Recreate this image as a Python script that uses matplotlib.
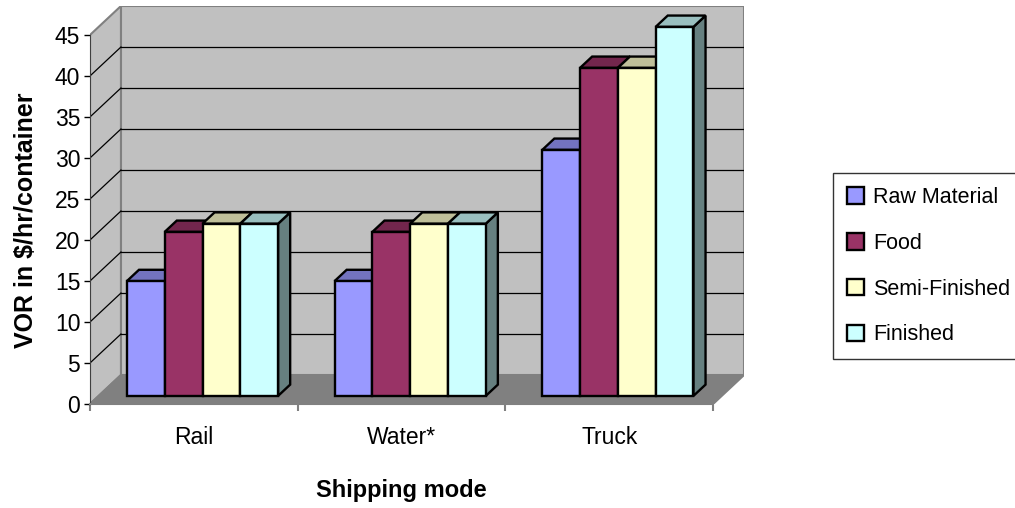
import matplotlib
matplotlib.use('Agg')
import matplotlib.pyplot as plt
from matplotlib.patches import Polygon, Patch
from matplotlib.colors import to_rgb

# Datos del gráfico
modes = ['Rail', 'Water*', 'Truck']
series = ['Raw Material', 'Food', 'Semi-Finished', 'Finished']
raw_material = [14, 14, 30]
food = [20, 20, 40]
semi_finished = [21, 21, 40]
finished = [21, 21, 45]
values = [raw_material, food, semi_finished, finished]
colors = ['#9999FF', '#993366', '#FFFFCC', '#CCFFFF']
yticks = [0, 5, 10, 15, 20, 25, 30, 35, 40, 45]
ymax = 45

plt.rcParams['font.family'] = ['Liberation Sans', 'DejaVu Sans']

# profundidad de la proyección oblicua (en unidades de datos)
DX = 0.149
DY = 3.53
z0, z1 = 0.28, 0.67
width = 0.182
offset = (1 - 4 * width) / 2


def proj(x, y, z):
    return (x + DX * z, y + DY * z)


def shade(c, f):
    r, g, b = to_rgb(c)
    return (r * f, g * f, b * f)


fig = plt.figure(figsize=(10.15, 5.08), dpi=100)
ax = fig.add_axes([90 / 1015, (508 - 404) / 508, 654 / 1015, 398 / 508])
ax.set_xlim(0, len(modes) + DX)
ax.set_ylim(0, ymax + DY)
ax.patch.set_visible(False)

# paredes y piso
wall_kw = dict(edgecolor='#808080', linewidth=1.5, zorder=0)
ncat = len(modes)
ax.add_patch(Polygon([proj(0, 0, 1), proj(ncat, 0, 1), proj(ncat, ymax, 1), proj(0, ymax, 1)],
                     facecolor='#C0C0C0', **wall_kw))
ax.add_patch(Polygon([proj(0, 0, 0), proj(0, 0, 1), proj(0, ymax, 1), proj(0, ymax, 0)],
                     facecolor='#C0C0C0', **wall_kw))
ax.add_patch(Polygon([proj(0, 0, 0), proj(ncat, 0, 0), proj(ncat, 0, 1), proj(0, 0, 1)],
                     facecolor='#808080', **wall_kw))

# líneas de cuadrícula
for v in yticks[1:-1]:
    a, b = proj(0, v, 1), proj(ncat, v, 1)
    ax.plot([a[0], b[0]], [a[1], b[1]], color='black', lw=0.9, zorder=1)
    a, b = proj(0, v, 0), proj(0, v, 1)
    ax.plot([a[0], b[0]], [a[1], b[1]], color='black', lw=0.9, zorder=1)

# barras 3D
zo = 2
for i in range(ncat):
    for j, vals in enumerate(values):
        v = vals[i]
        x0 = i + offset + j * width
        x1 = x0 + width
        c = colors[j]
        kw = dict(edgecolor='black', linewidth=1.7, joinstyle='miter')
        ax.add_patch(Polygon([proj(x1, 0, z0), proj(x1, 0, z1), proj(x1, v, z1), proj(x1, v, z0)],
                             facecolor=shade(c, 0.5), zorder=zo, **kw))
        ax.add_patch(Polygon([proj(x0, v, z0), proj(x1, v, z0), proj(x1, v, z1), proj(x0, v, z1)],
                             facecolor=shade(c, 0.75), zorder=zo + 1, **kw))
        ax.add_patch(Polygon([proj(x0, 0, z0), proj(x1, 0, z0), proj(x1, v, z0), proj(x0, v, z0)],
                             facecolor=c, zorder=zo + 2, **kw))
        zo += 3

# ejes
for s in ['top', 'right']:
    ax.spines[s].set_visible(False)
ax.spines['left'].set_bounds(0, ymax)
ax.spines['bottom'].set_bounds(0, ncat)
ax.spines['left'].set_color('#404040')
ax.spines['bottom'].set_color('#808080')
ax.spines['bottom'].set_linewidth(1.5)
ax.set_yticks(yticks)
ax.tick_params(axis='y', length=4, width=1, pad=3, labelsize=16.5)
ax.set_xticks(range(ncat + 1))
ax.set_xticklabels([])
ax.tick_params(axis='x', which='major', length=5, width=1.5, color='#808080')
ax.set_xticks([i + 0.5 for i in range(ncat)], minor=True)
ax.set_xticklabels(modes, minor=True)
ax.tick_params(axis='x', which='minor', length=0, pad=16, labelsize=16.5)

fig.text(26 / 1015, 1 - 220 / 508, 'VOR in $/hr/container', rotation=90,
         ha='center', va='center', fontsize=18, fontweight='bold')
fig.text(401 / 1015, 1 - 490 / 508, 'Shipping mode', ha='center', va='center',
         fontsize=17, fontweight='bold')

handles = [Patch(facecolor=c, edgecolor='black', linewidth=1.7) for c in colors]
leg = fig.legend(handles, series, loc='upper left', bbox_to_anchor=(833 / 1015, 1 - 173 / 508),
                 bbox_transform=fig.transFigure, fontsize=15.5, frameon=True, fancybox=False,
                 borderaxespad=0, borderpad=0.65, handlelength=0.8, handleheight=0.8,
                 handletextpad=0.4, labelspacing=1.15)
leg.get_frame().set_edgecolor('black')
leg.get_frame().set_linewidth(1.0)

fig.savefig('out.png', dpi=100)
